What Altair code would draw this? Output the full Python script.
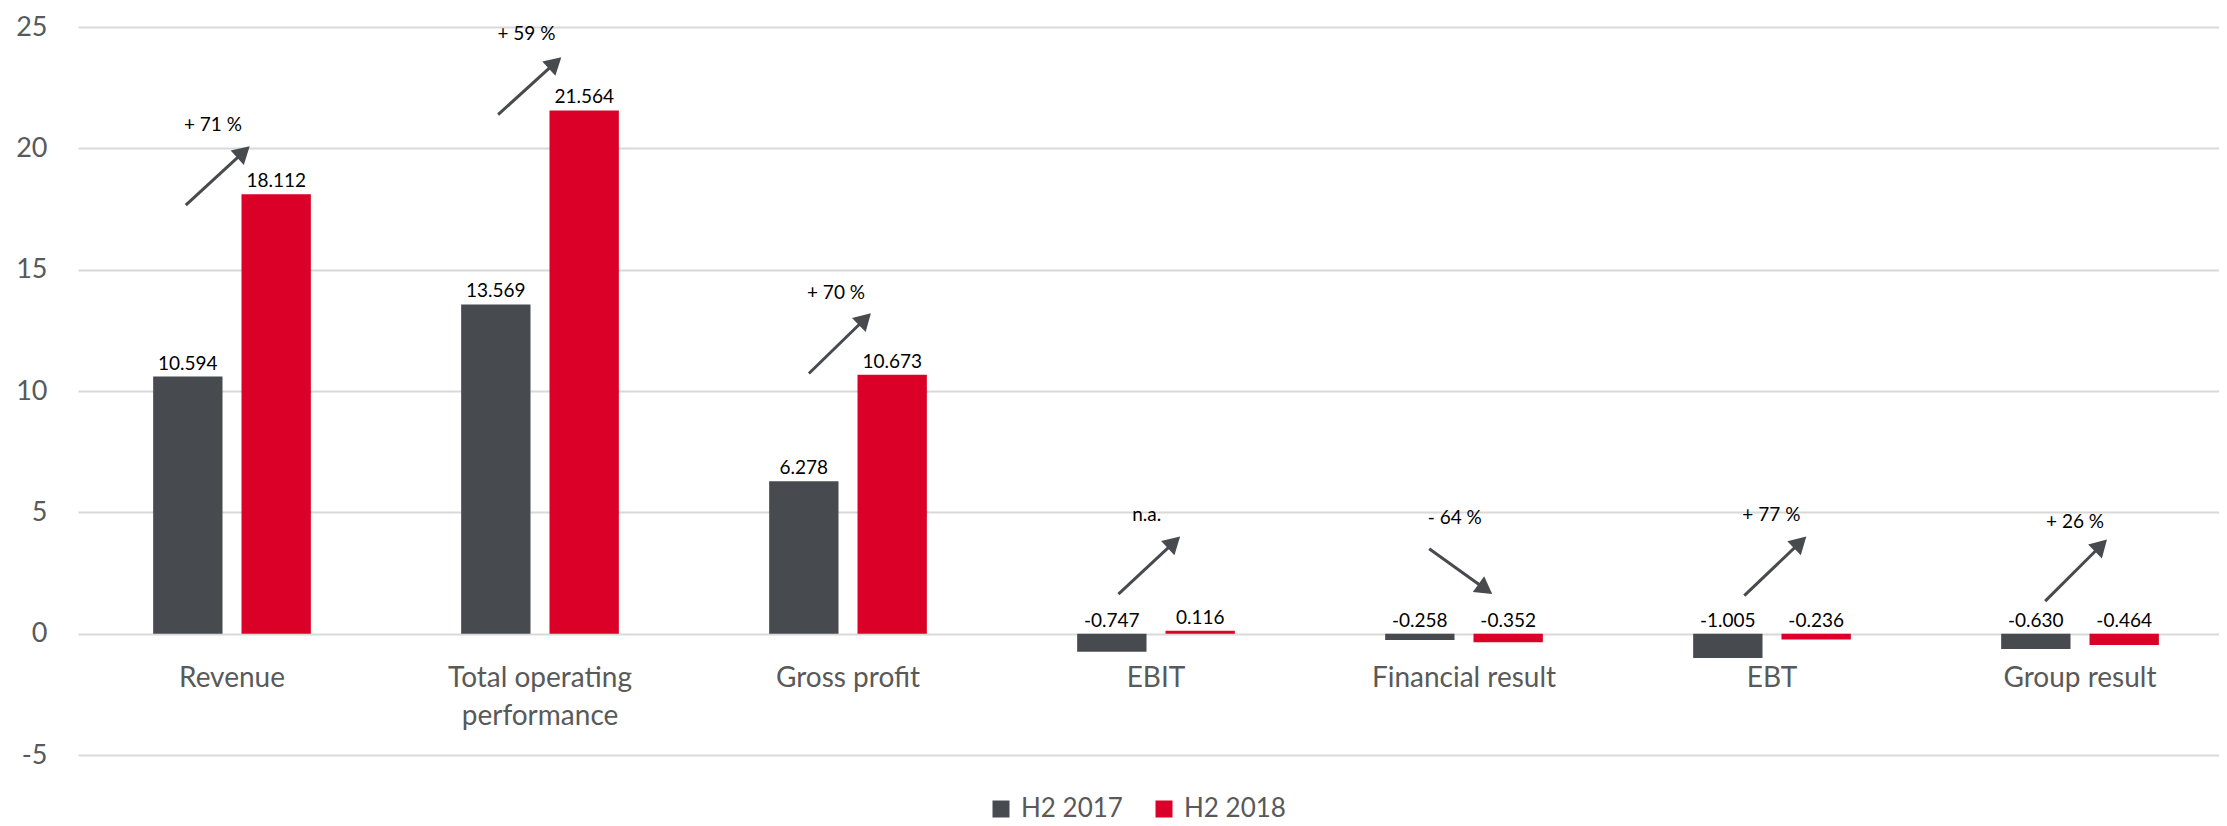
import math
import altair as alt
import pandas as pd

categories = ["Revenue", "Total operating performance", "Gross profit", "EBIT",
              "Financial result", "EBT", "Group result"]
category_lines = [["Revenue"], ["Total operating", "performance"], ["Gross profit"], ["EBIT"],
                  ["Financial result"], ["EBT"], ["Group result"]]
series = ["H2 2017", "H2 2018"]
h2_2017 = [10.594, 13.569, 6.278, -0.747, -0.258, -1.005, -0.630]
h2_2018 = [18.112, 21.564, 10.673, 0.116, -0.352, -0.236, -0.464]
labels_2017 = ["10.594", "13.569", "6.278", "-0.747", "-0.258", "-1.005", "-0.630"]
labels_2018 = ["18.112", "21.564", "10.673", "0.116", "-0.352", "-0.236", "-0.464"]
change_labels = ["+ 71 %", "+ 59 %", "+ 70 %", "n.a.", "- 64 %", "+ 77 %", "+ 26 %"]
# arrow annotations (x in category-band units, y in data units)
arrow_x0 = [0.350, 0.364, 0.373, 0.378, 0.387, 0.410, 0.387]
arrow_x1 = [0.564, 0.576, 0.581, 0.585, 0.599, 0.618, 0.594]
arrow_y0 = [17.66, 21.39, 10.72, 1.63, 3.50, 1.57, 1.34]
arrow_y1 = [20.16, 23.83, 13.29, 4.08, 1.57, 4.08, 3.96]
change_x = [0.438, 0.456, 0.461, 0.470, 0.470, 0.498, 0.484]
change_y = [20.98, 24.70, 14.04, 4.90, 4.78, 4.90, 4.60]

W, H = 2140, 728
XRANGE = 2156
Y_MIN, Y_MAX = -5, 25
DARK, RED = "#474B4F", "#DA0028"
FONT = "Lato"
HEAD_SIZE = 380

rows = []
for i, c in enumerate(categories):
    for s, vals, labs in ((series[0], h2_2017, labels_2017), (series[1], h2_2018, labels_2018)):
        rows.append({"category": c, "series": s, "value": vals[i], "label": labs[i],
                     "labely": max(vals[i], 0)})
bars_df = pd.DataFrame(rows)
cat_df = pd.DataFrame({"category": categories, "lines": category_lines})

px_x = XRANGE / len(categories)
px_y = H / (Y_MAX - Y_MIN)
r = math.sqrt(HEAD_SIZE) / 2
back = 1.1547 * r
arows = []
for i in range(len(categories)):
    x0, x1 = i + arrow_x0[i], i + arrow_x1[i]
    y0, y1 = arrow_y0[i], arrow_y1[i]
    dxp, dyp = (x1 - x0) * px_x, (y1 - y0) * px_y
    L = math.hypot(dxp, dyp)
    ang = math.degrees(math.atan2(dxp, dyp)) % 360
    hx = x1 - back * dxp / L / px_x
    hy = y1 - back * dyp / L / px_y
    arows.append({"x0": x0, "y0": y0, "hx": hx, "hy": hy, "angle": ang,
                  "lx": i + change_x[i], "ly": change_y[i], "txt": change_labels[i]})
arr_df = pd.DataFrame(arows)

yscale = alt.Scale(domain=[Y_MIN, Y_MAX], nice=False, zero=False)
yaxis = alt.Axis(values=[-5, 0, 5, 10, 15, 20, 25], title=None, grid=True, gridColor="#D9D9D9",
                 gridWidth=2, domain=False, ticks=False, labelFont=FONT, labelFontSize=27,
                 labelColor="#595959", labelPadding=31, labelExpr="datum.value + ''")

xband = alt.X("category:N", sort=categories,
              scale=alt.Scale(paddingInner=0.488, paddingOuter=0.244, range=[0, XRANGE]),
              axis=None)
xoff = alt.XOffset("series:N", sort=series, scale=alt.Scale(paddingInner=0.215, paddingOuter=0))

bars = alt.Chart(bars_df).mark_bar().encode(
    x=xband, xOffset=xoff,
    y=alt.Y("value:Q", scale=yscale, axis=yaxis),
    y2=alt.datum(0),
    color=alt.Color("series:N", sort=series,
                    scale=alt.Scale(domain=series, range=[DARK, RED]),
                    legend=alt.Legend(orient="none", legendX=910, legendY=769, direction="horizontal",
                                      title=None, symbolType="square", symbolSize=289,
                                      symbolStrokeWidth=0, labelFont=FONT, labelFontSize=26,
                                      labelColor="#595959", columnPadding=28, labelOffset=7)),
)

vlabels = alt.Chart(bars_df).mark_text(baseline="bottom", dy=-3, fontSize=19, font=FONT,
                                        color="black").encode(
    x=xband, xOffset=xoff,
    y=alt.Y("labely:Q", scale=yscale, axis=yaxis),
    text="label:N",
)

catlabels = alt.Chart(cat_df).mark_text(baseline="top", dy=31, fontSize=28, lineHeight=38,
                                         font=FONT, color="#595959").encode(
    x=xband,
    y=alt.datum(0, scale=yscale, axis=yaxis),
    text="lines",
)

xlin = alt.Scale(domain=[0, len(categories)], nice=False, zero=False, range=[0, XRANGE])

lines = alt.Chart(arr_df).mark_rule(strokeWidth=3, color=DARK).encode(
    x=alt.X("x0:Q", scale=xlin, axis=None), x2="hx:Q",
    y=alt.Y("y0:Q", scale=yscale, axis=yaxis), y2="hy:Q",
)
heads = alt.Chart(arr_df).mark_point(shape="triangle-up", filled=True, size=HEAD_SIZE,
                                      color=DARK, opacity=1).encode(
    x=alt.X("hx:Q", scale=xlin, axis=None),
    y=alt.Y("hy:Q", scale=yscale, axis=yaxis),
    angle=alt.Angle("angle:Q", scale=None),
)
pct = alt.Chart(arr_df).mark_text(baseline="middle", align="center", fontSize=19, font=FONT,
                                   color="black").encode(
    x=alt.X("lx:Q", scale=xlin, axis=None),
    y=alt.Y("ly:Q", scale=yscale, axis=yaxis),
    text="txt:N",
)

chart = alt.layer(
    alt.layer(bars, vlabels, catlabels),
    alt.layer(lines, heads, pct),
).resolve_scale(x="independent").properties(
    width=W, height=H,
    autosize=alt.AutoSizeParams(type="none"),
    padding={"left": 70, "top": 19, "right": 1, "bottom": 70},
    background="white",
).configure_view(stroke=None)

chart.save("out.html", embed_options={"renderer": "svg", "actions": False})
